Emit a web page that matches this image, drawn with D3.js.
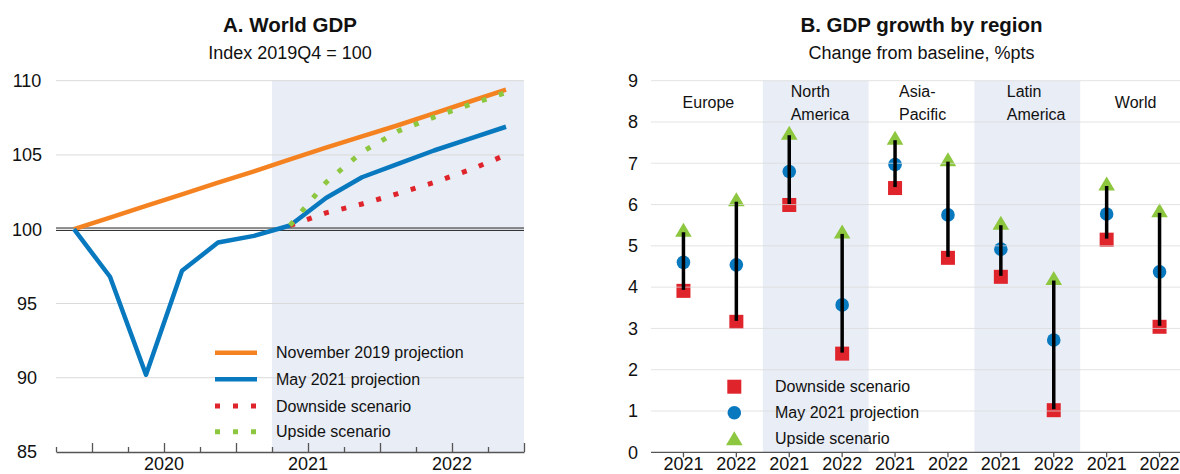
<!DOCTYPE html>
<html><head><meta charset="utf-8">
<script src="https://cdn.jsdelivr.net/npm/d3@7"></script>
<style>
body{margin:0;background:#fff}
svg{display:block}
text{font-family:"Liberation Sans",Arial,Helvetica,sans-serif;fill:#111}
</style>
</head><body>
<svg id="c" width="1180" height="474"></svg>
<script>
// ---------- Panel A data ----------
const quarters = ["2019Q4","2020Q1","2020Q2","2020Q3","2020Q4","2021Q1","2021Q2","2021Q3","2021Q4","2022Q1","2022Q2","2022Q3","2022Q4"];
const nov2019 = [100, 100.78, 101.57, 102.35, 103.13, 103.9, 104.7, 105.5, 106.25, 107.0, 107.8, 108.6, 109.4];
const may2021 = [100, 96.8, 90.2, 97.2, 99.1, 99.55, 100.25, 102.1, 103.5, 104.4, 105.3, 106.1, 106.9];
const downsideA = [null, null, null, null, null, null, 100.25, 101.1, 101.7, 102.4, 103.15, 104.0, 105.0];
const upsideA = [null, null, null, null, null, null, 100.25, 103.15, 105.2, 106.6, 107.55, 108.4, 109.2];
const yTicksA = [85, 90, 95, 100, 105, 110];
const yearLabelsA = ["2020", "2021", "2022"];
const legendA = ["November 2019 projection", "May 2021 projection", "Downside scenario", "Upside scenario"];
const projectionStart = "2021Q2";

// ---------- Panel B data ----------
const regionLines = [["Europe"], ["North", "America"], ["Asia-", "Pacific"], ["Latin", "America"], ["World"]];
const yearsB = ["2021", "2022"];
const downsideB = [3.91, 3.16, 5.99, 2.39, 6.40, 4.71, 4.25, 1.02, 5.15, 3.04];
const mayB      = [4.60, 4.54, 6.80, 3.57, 6.97, 5.75, 4.92, 2.72, 5.77, 4.37];
const upsideB   = [5.39, 6.13, 7.74, 5.35, 7.62, 7.10, 5.56, 4.22, 6.51, 5.86];
const yTicksB = [0, 1, 2, 3, 4, 5, 6, 7, 8, 9];
const legendB = ["Downside scenario", "May 2021 projection", "Upside scenario"];

// ---------- styles ----------
const C = {orange:"#F58220", blue:"#0879BF", red:"#E0242B", green:"#8DC63F", shade:"#E9EDF5", grid:"#D9D9D9", axis:"#555"};
const svg = d3.select("#c");
const xLabelY = 470;

// ================= Panel A =================
const gA = svg.append("g");
const xA = d3.scaleLinear().domain([-0.5, quarters.length - 0.5]).range([56, 524]);
const yA = d3.scaleLinear().domain([85, 110]).range([452, 80.7]);
const qi = q => quarters.indexOf(q);

// shaded projection area
gA.append("rect")
  .attr("x", xA(qi(projectionStart) - 0.5)).attr("y", yA(110))
  .attr("width", xA(quarters.length - 0.5) - xA(qi(projectionStart) - 0.5))
  .attr("height", yA(85) - yA(110)).attr("fill", C.shade);

// gridlines
gA.selectAll(".gA").data(yTicksA.filter(v => v !== 85 && v !== 100)).join("line")
  .attr("x1", xA.range()[0]).attr("x2", xA.range()[1])
  .attr("y1", d => yA(d)).attr("y2", d => yA(d))
  .attr("stroke", C.grid).attr("stroke-width", 1);

// double line at 100
[-1.2, 1.2].forEach(o => gA.append("line")
  .attr("x1", xA.range()[0]).attr("x2", xA.range()[1])
  .attr("y1", yA(100) + o).attr("y2", yA(100) + o)
  .attr("stroke", "#222").attr("stroke-width", 1));

// y labels
gA.selectAll(".yl").data(yTicksA).join("text")
  .attr("x", 27).attr("y", d => yA(d)).attr("dy", "0.35em")
  .attr("text-anchor", "middle").attr("font-size", 18).text(d => d);

// x axis: minor ticks each quarter boundary, major every half year
const bounds = d3.range(-0.5, quarters.length, 1);
const axA = d3.axisBottom(xA).tickValues(bounds).tickSizeInner(-5).tickSizeOuter(0).tickFormat("");
const axG = gA.append("g").attr("transform", `translate(0,${yA(85)})`).call(axA);
axG.selectAll("path,line").attr("stroke", C.axis).attr("stroke-width", 1.3);
axG.selectAll(".tick line").attr("y2", (d) => (((d + 0.5) % 2 === 1) ? -9 : -5));

gA.selectAll(".xl").data(yearLabelsA).join("text")
  .attr("x", d => xA(qi(d + "Q2") + 0.5)).attr("y", xLabelY)
  .attr("text-anchor", "middle").attr("font-size", 18).text(d => d);

// lines
const lineA = d3.line().defined(d => d != null).x((d, i) => xA(i)).y(d => yA(d));
gA.append("path").datum(nov2019).attr("d", lineA).attr("fill", "none")
  .attr("stroke", C.orange).attr("stroke-width", 4.5);
gA.append("path").datum(may2021).attr("d", lineA).attr("fill", "none")
  .attr("stroke", C.blue).attr("stroke-width", 4.5).attr("stroke-linejoin", "round");
gA.append("path").datum(downsideA).attr("d", lineA).attr("fill", "none")
  .attr("stroke", C.red).attr("stroke-width", 5).attr("stroke-dasharray", "5,13");
gA.append("path").datum(upsideA).attr("d", lineA).attr("fill", "none")
  .attr("stroke", C.green).attr("stroke-width", 5).attr("stroke-dasharray", "5,13");

// legend A
const legRowsA = [352.7, 379.3, 406, 431.7];
const legStyles = [
  {c: C.orange, w: 4.5, da: null},
  {c: C.blue, w: 4.5, da: null},
  {c: C.red, w: 5, da: "5,13"},
  {c: C.green, w: 5, da: "5,13"}];
legendA.forEach((t, i) => {
  const s = legStyles[i];
  gA.append("line").attr("x1", 215).attr("x2", i < 2 ? 257 : 258)
    .attr("y1", legRowsA[i]).attr("y2", legRowsA[i])
    .attr("stroke", s.c).attr("stroke-width", s.w).attr("stroke-dasharray", s.da);
  gA.append("text").attr("x", 276).attr("y", legRowsA[i]).attr("dy", "0.35em")
    .attr("font-size", 16).text(t);
});

// titles A
gA.append("text").attr("x", 290).attr("y", 32).attr("text-anchor", "middle")
  .attr("font-size", 20.5).attr("font-weight", "bold").text("A. World GDP");
gA.append("text").attr("x", 290).attr("y", 59).attr("text-anchor", "middle")
  .attr("font-size", 18).text("Index 2019Q4 = 100");

// ================= Panel B =================
const gB = svg.append("g");
const cols = d3.range(regionLines.length * yearsB.length);
const xB = d3.scaleBand().domain(cols).range([657, 1186]).padding(0);
const yB = d3.scaleLinear().domain([0, 9]).range([452.3, 80.7]);
const cx = i => xB(i) + xB.bandwidth() / 2;

// shading North America & Latin America
[1, 3].forEach(r => gB.append("rect")
  .attr("x", xB(r * 2)).attr("y", yB(9))
  .attr("width", xB.bandwidth() * 2).attr("height", yB(0) - yB(9))
  .attr("fill", C.shade));

// markers
const sq = 14;
gB.selectAll(".sq").data(downsideB).join("rect")
  .attr("x", (d, i) => cx(i) - sq / 2).attr("y", d => yB(d) - sq / 2)
  .attr("width", sq).attr("height", sq).attr("fill", C.red);
gB.selectAll(".ci").data(mayB).join("circle")
  .attr("cx", (d, i) => cx(i)).attr("cy", d => yB(d)).attr("r", 6.8).attr("fill", C.blue);
const tri = "M0,-7L8.3,7L-8.3,7Z";
gB.selectAll(".tr").data(upsideB).join("path")
  .attr("d", tri).attr("transform", (d, i) => `translate(${cx(i)},${yB(d)})`).attr("fill", C.green);

// gridlines (drawn over markers, as in the reference)
gB.selectAll(".gB").data(yTicksB.filter(v => v > 0)).join("line")
  .attr("x1", 651).attr("x2", 1180)
  .attr("y1", d => yB(d)).attr("y2", d => yB(d))
  .attr("stroke", C.grid).attr("stroke-width", 1).attr("stroke-opacity", 0.75);

// high-low lines
gB.selectAll(".hl").data(cols).join("line")
  .attr("x1", i => cx(i)).attr("x2", i => cx(i))
  .attr("y1", i => yB(downsideB[i]) - 1).attr("y2", i => yB(upsideB[i]) + 2.5)
  .attr("stroke", "#000").attr("stroke-width", 3.5);

// axis
const axB = d3.axisBottom(xB).tickSizeInner(5).tickSizeOuter(0).tickFormat("");
const axBG = gB.append("g").attr("transform", `translate(0,${yB(0)})`).call(axB);
axBG.select(".domain").attr("d", "M651,0H1180");
axBG.selectAll("path,line").attr("stroke", C.axis).attr("stroke-width", 1.3);

gB.selectAll(".xlb").data(cols).join("text")
  .attr("x", i => cx(i)).attr("y", xLabelY).attr("text-anchor", "middle")
  .attr("font-size", 18).text(i => yearsB[i % 2]);

gB.selectAll(".ylb").data(yTicksB).join("text")
  .attr("x", 633).attr("y", d => yB(d)).attr("dy", "0.35em")
  .attr("text-anchor", "middle").attr("font-size", 18).text(d => d);

// region labels
const regionDx = [-1.5, -25, -22.5, -20.5, 2.5];
regionLines.forEach((lines, r) => {
  const center = xB(r * 2) + xB.bandwidth();
  if (lines.length === 1) {
    gB.append("text").attr("x", center + regionDx[r]).attr("y", 108.3)
      .attr("text-anchor", "middle").attr("font-size", 16).text(lines[0]);
  } else {
    lines.forEach((l, k) => gB.append("text").attr("x", center + regionDx[r])
      .attr("y", 96.7 + k * 23.3).attr("text-anchor", "start").attr("font-size", 16).text(l));
  }
});

// legend B
const legRowsB = [386.7, 412.7, 438.3];
legendB.forEach((t, i) => {
  const y = legRowsB[i], x = 734.3;
  if (i === 0) gB.append("rect").attr("x", x - 7).attr("y", y - 7).attr("width", 14).attr("height", 14).attr("fill", C.red);
  if (i === 1) gB.append("circle").attr("cx", x).attr("cy", y).attr("r", 6.8).attr("fill", C.blue);
  if (i === 2) gB.append("path").attr("d", tri).attr("transform", `translate(${x},${y})`).attr("fill", C.green);
  gB.append("text").attr("x", 775).attr("y", y).attr("dy", "0.35em").attr("font-size", 16).text(t);
});

// titles B
gB.append("text").attr("x", 921.5).attr("y", 32).attr("text-anchor", "middle")
  .attr("font-size", 20.5).attr("font-weight", "bold").text("B. GDP growth by region");
gB.append("text").attr("x", 921.5).attr("y", 59).attr("text-anchor", "middle")
  .attr("font-size", 18).text("Change from baseline, %pts");
</script>
</body></html>
